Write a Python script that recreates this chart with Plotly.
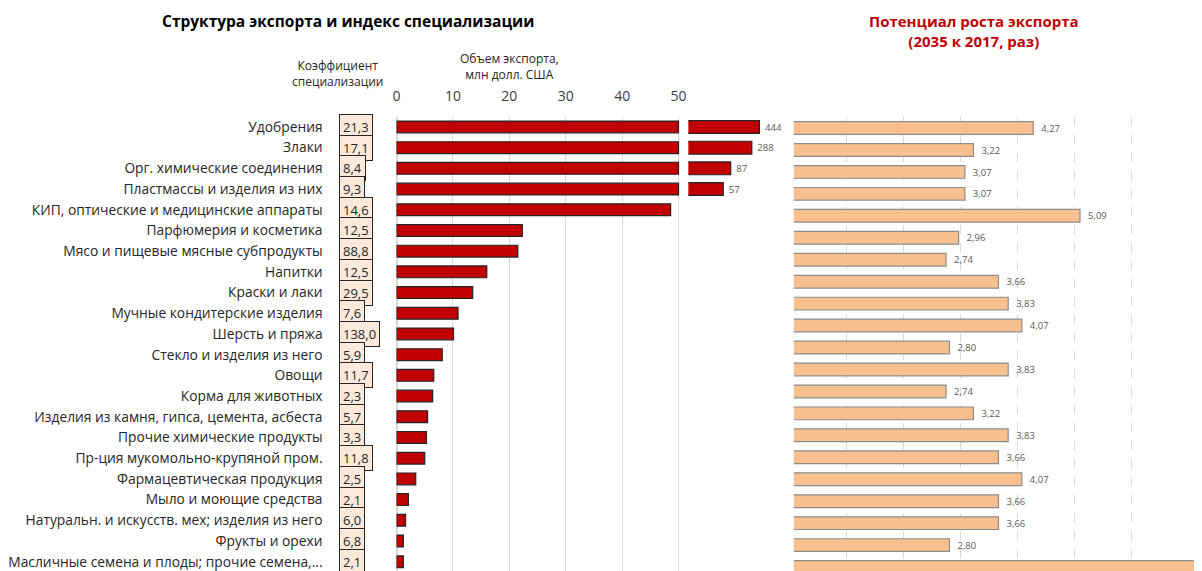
import plotly.graph_objects as go

OFF = 8                      # browser body margin
W, H = 1202 - OFF, 571 - OFF

categories = [
    "Удобрения", "Злаки", "Орг. химические соединения", "Пластмассы и изделия из них",
    "КИП, оптические и медицинские аппараты", "Парфюмерия и косметика",
    "Мясо и пищевые мясные субпродукты", "Напитки", "Краски и лаки",
    "Мучные кондитерские изделия", "Шерсть и пряжа", "Стекло и изделия из него",
    "Овощи", "Корма для животных", "Изделия из камня, гипса, цемента, асбеста",
    "Прочие химические продукты", "Пр-ция мукомольно-крупяной пром.",
    "Фармацевтическая продукция", "Мыло и моющие средства",
    "Натуральн. и искусств. мех; изделия из него", "Фрукты и орехи",
    "Масличные семена и плоды; прочие семена,...",
]
spec_coef = [21.3, 17.1, 8.4, 9.3, 14.6, 12.5, 88.8, 12.5, 29.5, 7.6, 138.0,
             5.9, 11.7, 2.3, 5.7, 3.3, 11.8, 2.5, 2.1, 6.0, 6.8, 2.1]
export_musd = [444, 288, 87, 57, 48.6, 22.3, 21.5, 16.0, 13.5, 10.9, 10.1,
               8.1, 6.6, 6.4, 5.5, 5.3, 5.0, 3.4, 2.1, 1.6, 1.2, 1.2]
growth_potential = [4.27, 3.22, 3.07, 3.07, 5.09, 2.96, 2.74, 3.66, 3.83, 4.07,
                    2.80, 3.83, 2.74, 3.22, 3.83, 3.66, 4.07, 3.66, 3.66, 2.80, 7.40]
export_ticks = [0, 10, 20, 30, 40, 50]

CAP = 50
RIGHT_MAX = 7.163


def px(x):
    return (x - OFF) / W


def py(y):
    return 1 - (y - OFF) / H


shown = [min(v, CAP) for v in export_musd]
overflow = [v if v > CAP else None for v in export_musd]
overflow_txt = ["\u00a0" + str(v) if v > CAP else "" for v in export_musd]
growth_idx = list(range(len(growth_potential)))
growth_txt = ["\u00a0\u00a0" + f"{v:.2f}".replace(".", ",") if v < RIGHT_MAX else ""
              for v in growth_potential]

fig = go.Figure()

fig.add_trace(go.Bar(
    x=shown, y=categories, orientation="h", xaxis="x", yaxis="y",
    marker=dict(color="#C00000", line=dict(color="#262626", width=1.2)),
    width=0.57, hoverinfo="skip",
))
fig.add_trace(go.Bar(
    x=overflow, y=categories, orientation="h", xaxis="x3", yaxis="y",
    marker=dict(color="#C00000", line=dict(color="#262626", width=1.2)),
    width=0.62, text=overflow_txt, textposition="outside", cliponaxis=False,
    textfont=dict(size=10.5, color="#595959", family="Open Sans"), hoverinfo="skip",
))
fig.add_trace(go.Bar(
    x=growth_potential, y=growth_idx, orientation="h", xaxis="x2", yaxis="y2",
    marker=dict(color="#F9C08F", line=dict(color="#8C8C8C", width=1.2)),
    width=0.58, text=growth_txt, textposition="outside", cliponaxis=True,
    textfont=dict(size=10.5, color="#595959", family="Open Sans"), hoverinfo="skip",
))

dom_top = py(116.6)

fig.update_layout(
    width=W, height=H, margin=dict(l=0, r=0, t=0, b=0),
    paper_bgcolor="white", plot_bgcolor="white", showlegend=False,
    barmode="overlay", separators=", ",
    font=dict(family="Open Sans", color="#262626"),
    xaxis=dict(domain=[px(390), px(678.9)], range=[0, 50.5], side="top", anchor="y",
               tickvals=export_ticks, showgrid=True, gridcolor="#D9D9D9", gridwidth=1,
               zeroline=True, zerolinecolor="#D9D9D9", showline=False,
               ticks="outside", ticklen=9, tickcolor="rgba(0,0,0,0)",
               tickfont=dict(size=14, color="#404040")),
    yaxis=dict(domain=[0, dom_top], type="category", categoryarray=categories,
               range=[21.45, -0.5], anchor="x", showgrid=False, zeroline=False,
               ticklabelstandoff=73, tickfont=dict(size=13.8, color="#262626")),
    xaxis3=dict(domain=[px(686), px(785)], type="log", range=[0.896, 3.30], anchor="y",
                showgrid=False, zeroline=False, showticklabels=False, showline=False),
    xaxis2=dict(domain=[px(793), 1.0], range=[0.069, RIGHT_MAX - 0.02], anchor="y2",
                tickvals=[1, 2, 3, 4, 5, 6], showticklabels=False, showgrid=True,
                gridcolor="#D9D9D9", griddash="dash", zeroline=False, showline=False),
    yaxis2=dict(domain=[0, dom_top], range=[20.18, -0.519], anchor="x2",
                showticklabels=False, showgrid=False, zeroline=False),
)

for cat, v in zip(categories, spec_coef):
    fig.add_annotation(
        x=px(332), xref="paper", y=cat, yref="y", xanchor="left", yanchor="middle",
        text=f"{v:.1f}".replace(".", ","), showarrow=False,
        bgcolor="#FDE9D9", bordercolor="#262626", borderwidth=1, borderpad=3,
        font=dict(size=13, color="#262626"),
    )

fig.add_annotation(x=px(341), y=py(21), xref="paper", yref="paper", showarrow=False,
                   xanchor="center", yanchor="middle",
                   text="<b>Структура экспорта и индекс специализации</b>",
                   font=dict(size=15.5, color="#000000"))
fig.add_annotation(x=px(976), y=py(31), xref="paper", yref="paper", showarrow=False,
                   xanchor="center", yanchor="middle",
                   text="<b>Потенциал роста экспорта<br>(2035 к 2017, раз)</b>",
                   font=dict(size=15, color="#C00000"))
fig.add_annotation(x=px(330), y=py(73.5), xref="paper", yref="paper", showarrow=False,
                   xanchor="center", yanchor="middle",
                   text="Коэффициент<br>специализации", font=dict(size=12, color="#262626"))
fig.add_annotation(x=px(505), y=py(66.5), xref="paper", yref="paper", showarrow=False,
                   xanchor="center", yanchor="middle",
                   text="Объем экспорта,<br>млн долл. США", font=dict(size=12, color="#262626"))

fig.write_html("out.html")
